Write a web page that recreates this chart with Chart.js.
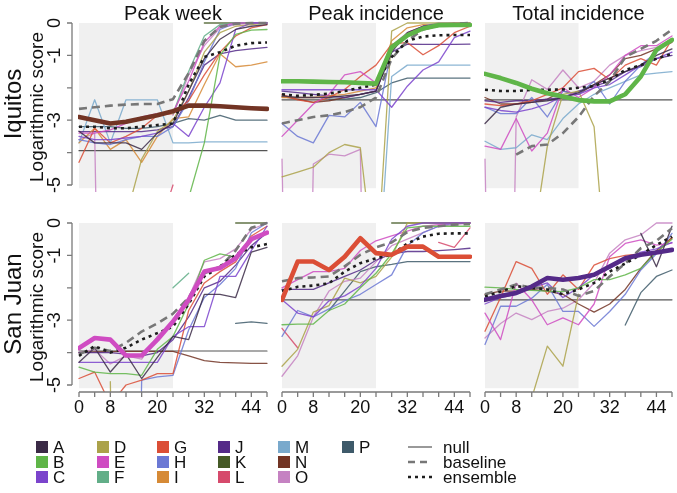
<!DOCTYPE html>
<html>
<head>
<meta charset="utf-8">
<script src="https://cdn.jsdelivr.net/npm/chart.js@4.4.1/dist/chart.umd.min.js"></script>
<style>
  body { margin: 0; background: #fff; }
  #page { position: relative; width: 677px; height: 493px; overflow: hidden; font-family: "Liberation Sans", Arial, sans-serif; color: #111; }
  #page canvas { position: absolute; left: 0; top: 0; }
  .lbl { position: absolute; white-space: nowrap; transform: translate(-50%, -50%); line-height: 1; }
  .rot { transform: translate(-50%, -50%) rotate(-90deg); }
  .leg { position: absolute; font-size: 17px; line-height: 1; white-space: nowrap; }
  .sw { position: absolute; width: 12px; height: 12px; }
</style>
</head>
<body>
<div id="page"></div>
<script>
const weeks = [0, 4, 8, 12, 16, 20, 24, 28, 32, 36, 40, 44, 48];
const xTickLabels = [0, 8, 20, 32, 44];
const yTickLabels = [0, -1, -3, -5];
const panelTitles = ["Peak week", "Peak incidence", "Total incidence"];
const cities = ["Iquitos", "San Juan"];
const models = ["A", "B", "C", "D", "E", "F", "G", "H", "I", "J", "K", "L", "M", "N", "O", "P"];
const modelColors = ["#3b2a46", "#5fb548", "#7b44cc", "#aba24a", "#cf4cc2", "#62ae88", "#db4e36", "#6b78d4",
  "#d68a36", "#542a88", "#455a26", "#d64a6c", "#79a9cc", "#723424", "#c582c2", "#3e5a6a"];
const highlighted = ["N", "B", "B", "E", "G", "J"];
const nullScores = [-3.94, -2.37, -2.37, -3.95, -2.37, -2.37];

// Iquitos, peak week
const iqWeekBaseline = [-2.65, -2.6, -2.55, -2.52, -2.5, -2.5, -2.35, -1.55, -0.55, -0.12, -0.02, 0, 0];
const iqWeekEnsemble = [-3.2, -3.2, -3.25, -3.25, -3.2, -3.15, -3.1, -1.9, -1.05, -0.9, -0.7, -0.62, -0.6];
const iqWeekModels = {
  A: [-3.34, -3.7, -3.7, -3.7, -3.9, -3.4, -3.1, -2.1, -1.1, -0.5, -0.2, -0.1, -0.05],
  B: [-9, -9, -9, -9, -9, -9, -9, -5.4, -3.7, -1.0, -0.35, -0.22, -0.2],
  C: [-3.5, -3.6, -3.6, -3.55, -3.5, -3.4, -3.1, -3.5, -2.6, -1.85, -0.2, 0, 0],
  D: [-9, -9, -9, -6, -4.2, -3.35, -3.0, -2.1, -0.9, -0.3, -0.1, -0.05, 0],
  E: [-3.4, -3.4, -3.3, -3.1, -2.9, -2.8, -2.75, -1.8, -0.6, -0.1, 0, 0, 0],
  F: [null, null, null, null, null, null, -2.8, -1.5, -0.4, -0.05, 0, 0, 0],
  G: [-4.3, -3.25, -3.7, -3.5, -3.25, -2.85, -2.8, -2.4, -1.6, -0.9, -0.4, -0.15, -0.05],
  H: [-3.6, -3.7, -3.75, -3.6, -3.5, -3.5, -3.2, -2.4, -1.2, -0.2, 0, 0, 0],
  I: [-3.7, -3.25, -3.9, -3.6, -4.3, -3.5, -2.95, -2.9, -1.9, -0.95, -1.35, -1.3, -1.2],
  J: [-3.35, -3.35, -3.35, -3.35, -3.35, -3.3, -3.2, -2.3, -1.3, -0.95, -0.85, -0.8, -0.75],
  K: [null, null, null, null, null, null, null, null, 0, 0, 0, 0, 0],
  L: [null, null, null, null, null, -6.5, -5.0, null, null, null, null, null, null],
  M: [-3.7, -2.37, -3.7, -2.37, -2.37, -2.37, -3.7, -3.7, -3.67, -3.67, -3.67, -3.67, -3.67],
  N: [-2.9, -3.0, -3.1, -3.05, -2.95, -2.85, -2.72, -2.55, -2.55, -2.57, -2.6, -2.63, -2.65],
  O: [-3.6, -3.4, -30, null, null, null, -2.85, -1.6, -0.7, -0.15, -0.05, 0, 0],
  P: [-3.2, -3.2, -3.2, -3.25, -3.25, -3.2, -3.1, -2.95, -3.0, -2.85, -3.0, -3.0, -3.0],
};

// Iquitos, peak incidence
const iqPeakBaseline = [-3.1, -3.0, -2.9, -2.85, -2.75, -2.6, -2.3, -1.1, -0.55, -0.2, -0.08, -0.03, 0];
const iqPeakEnsemble = [-2.2, -2.25, -2.22, -2.18, -2.1, -2.0, -1.9, -1.05, -0.55, -0.42, -0.38, -0.37, -0.37];
const iqPeakModels = {
  A: [-2.25, -2.3, -2.3, -2.3, -2.25, -2.2, -2.1, -0.9, -0.3, -0.1, -0.05, -0.05, -0.05],
  B: [-1.8, -1.8, -1.81, -1.82, -1.83, -1.85, -1.87, -0.75, -0.38, -0.17, -0.07, -0.06, -0.06],
  C: [-2.06, -2.06, -2.06, -2.06, -2.06, -2.06, -2.06, -2.6, -1.95, -1.45, -1.2, -0.45, -0.25],
  D: [-4.75, -4.6, -4.45, -4.0, -3.75, -3.85, -8, -0.25, 0, 0, 0, 0, 0],
  E: [-3.5, -3.0, -2.5, -2.2, -1.6, -1.5, -1.85, -0.7, -0.3, -0.1, -0.05, 0, 0],
  G: [-2.2, -2.37, -2.45, -2.3, -2.05, -1.65, -1.3, -0.65, -0.6, -0.98, -0.7, -0.3, -0.1],
  H: [-3.1, -3.5, -3.7, -2.85, -2.9, -2.45, -3.2, -0.8, -0.35, -0.1, 0, 0, 0],
  I: [-2.3, -2.3, -2.3, -2.25, -2.2, -2.1, -2.0, -0.55, -0.15, -0.05, -0.05, -0.05, -0.05],
  J: [-2.1, -2.15, -2.2, -2.25, -2.3, -2.2, -2.1, -0.9, -0.65, -0.66, -0.66, -0.66, -0.65],
  M: [null, null, null, null, null, null, -9, -1.65, -1.3, -1.3, -1.3, -1.3, -1.3],
  N: [-2.27, -2.35, -2.45, -2.4, -2.3, -2.2, -2.1, -0.8, -0.4, -0.2, -0.1, -0.05, -0.05],
  O: [-4.2, -30, -4.35, -4.05, -4.1, -3.9, -30, null, null, null, null, null, null],
  P: [null, null, null, -2.35, -2.35, -2.3, -2.15, -1.85, -1.7, -1.7, -1.7, -1.7, -1.7],
};

// Iquitos, total incidence
const iqTotalBaseline = [null, null, -4.06, -3.8, -3.75, -3.4, -2.9, -2.25, -1.8, -1.05, -0.8, -0.55, -0.2];
const iqTotalEnsemble = [-2.06, -2.1, -2.1, -2.06, -2.06, -2.05, -2.0, -1.95, -1.75, -1.45, -1.3, -1.1, -0.95];
const iqTotalModels = {
  A: [-3.1, -2.6, -2.5, -2.45, -2.4, -2.3, -2.15, -1.9, -1.7, -1.5, -1.3, -1.0, -0.8],
  B: [-1.57, -1.7, -1.85, -2.03, -2.17, -2.27, -2.38, -2.42, -2.42, -2.2, -1.65, -0.83, -0.52],
  C: [-2.6, -2.7, -2.75, -2.65, -2.5, -2.25, -2.2, -2.0, -1.9, -1.6, -1.3, -1.1, -0.9],
  D: [null, null, null, -7, -3.8, -2.2, -2.1, -3.2, -9, null, null, null, null],
  E: [-3.8, -3.9, -2.95, -3.95, -3.4, -2.0, -2.3, -2.0, -1.6, -1.0, -0.7, -0.7, -0.4],
  G: [-2.5, -2.55, -2.5, -2.4, -2.2, -2.0, -1.5, -1.4, -1.75, -1.3, -1.1, -1.3, -0.5],
  H: [-2.6, -2.8, -2.8, -2.3, -2.9, -2.1, -2.2, -1.8, -2.5, -1.8, -1.3, -0.9, -0.5],
  J: [-2.4, -2.45, -2.4, -2.4, -2.35, -2.3, -2.1, -1.95, -1.8, -1.5, -1.35, -1.1, -1.0],
  M: [-3.65, -3.9, -3.85, -3.45, -3.6, -2.95, -2.5, -2.2, -2.0, -1.8, -1.6, -1.55, -1.5],
  N: [-2.3, -2.5, -2.5, -2.45, -2.35, -2.1, -2.2, -1.9, -1.6, -1.1, -1.0, -0.8, -0.6],
  O: [-4.2, -30, -2.9, -1.75, -2.05, -1.45, -2.0, -1.8, -1.3, -1.0, -0.85, -0.75, -0.5],
};

// San Juan, peak week
const sjWeekBaseline = [-4.05, -3.85, -3.95, -3.7, -3.35, -3.1, -2.8, -2.3, -1.55, -1.35, -0.85, -0.15, 0];
const sjWeekEnsemble = [-4.1, -3.8, -4.0, -3.85, -3.6, -3.4, -3.2, -2.5, -1.65, -1.35, -0.98, -0.75, -0.65];
const sjWeekModels = {
  A: [-4.3, -3.85, -4.6, -4.05, -4.8, -4.15, -3.5, -3.6, -2.2, -2.2, -2.3, -0.9, -0.75],
  B: [-4.45, -4.6, -4.65, -4.65, -4.7, -3.9, -3.5, -2.5, -1.15, -0.95, -1.05, -0.5, -0.3],
  C: [-4.3, -4.3, -4.3, -4.3, -4.3, -4.3, -3.5, -3.2, -3.2, -1.65, -1.65, -0.85, -0.1],
  D: [null, null, -4.9, -30, null, null, null, null, null, null, null, null, null],
  E: [-3.86, -3.55, -3.6, -4.09, -4.09, -3.6, -3.04, -2.37, -1.5, -1.39, -1.09, -0.5, -0.3],
  F: [null, null, null, null, null, null, -2.0, -1.55, null, null, null, null, null],
  G: [-4.8, -4.6, -5.6, -5.0, -4.85, -4.65, -4.65, -2.7, -1.85, -1.5, -1.2, -0.4, -0.1],
  H: [null, null, null, -30, -4.85, -4.75, -4.7, -3.3, -2.3, -1.9, -1.4, -0.3, 0],
  J: [-4.0, -4.0, -4.0, -4.05, -4.1, -4.0, -3.6, -2.9, -2.0, -1.8, -1.3, -0.7, -0.3],
  K: [null, null, null, null, null, null, null, null, null, null, 0, 0, 0],
  N: [-4.0, -3.98, -3.97, -3.96, -3.96, -3.96, -3.96, -4.1, -4.25, -4.3, -4.32, -4.33, -4.33],
  O: [-4.0, -3.9, -4.35, -4.1, -4.2, -3.5, -3.0, -2.3, -1.2, -1.1, -0.8, -0.2, 0],
  P: [null, null, null, null, null, null, null, null, null, null, -3.1, -3.05, -3.1],
};

// San Juan, peak incidence
const sjPeakBaseline = [-1.8, -1.7, -1.68, -1.65, -1.34, -0.98, -0.75, -0.6, -0.28, -0.15, -0.1, -0.05, -0.03];
const sjPeakEnsemble = [-2.1, -1.97, -1.93, -1.86, -1.5, -1.24, -1.09, -0.98, -0.63, -0.42, -0.33, -0.32, -0.32];
const sjPeakModels = {
  B: [-3.14, -3.12, -3.12, -2.7, -2.5, -2.0, -1.55, -0.95, -0.15, -0.1, -0.1, -0.1, -0.1],
  C: [-2.37, -2.78, -2.9, -2.4, -2.25, -1.95, -1.4, -0.5, -0.1, 0, 0, 0, 0],
  D: [-4.42, -3.9, -2.75, -2.55, -1.7, -1.85, -1.65, -1.05, 0, 0, 0, 0, 0],
  E: [-2.0, -1.75, -1.5, -1.5, -1.4, -0.85, -0.55, -0.4, -0.25, -0.1, -0.05, 0, 0],
  G: [-2.37, -1.19, -1.19, -1.45, -1.04, -0.47, -0.93, -0.98, -0.73, -0.73, -1.04, -1.04, -1.04],
  H: [-3.5, -2.7, -2.9, -2.65, -2.4, -2.2, -1.9, -1.6, -0.7, -0.3, -0.1, 0, 0],
  J: [-2.05, -2.05, -2.05, -1.85, -1.65, -1.45, -1.15, -0.95, -0.88, -0.88, -0.85, -0.82, -0.78],
  K: [null, null, null, null, null, null, null, 0, 0, 0, 0, 0, 0],
  L: [-3.25, -3.85, null, null, null, null, null, null, null, null, -0.6, -0.75, -0.15],
  O: [-4.73, -4.1, -2.9, -2.1, -1.8, -1.7, -1.2, -0.7, -0.5, -0.3, -0.1, -0.05, 0],
  P: [null, null, null, -2.7, -2.1, -1.5, -1.35, -1.28, -1.19, -1.19, -1.19, -1.19, -1.19],
};

// San Juan, total incidence
const sjTotalBaseline = [-2.2, -2.05, -1.9, -2.0, -2.0, -2.05, -2.25, -2.1, -1.65, -1.25, -0.78, -0.55, -0.16];
const sjTotalEnsemble = [-2.27, -2.12, -1.95, -2.0, -2.05, -2.2, -2.05, -1.85, -1.5, -1.25, -0.98, -0.68, -0.42];
const sjTotalModels = {
  A: [null, null, null, null, null, null, null, null, null, null, -0.32, -1.35, -0.1],
  B: [-1.98, -2.0, -2.05, -2.08, -2.1, -2.12, -2.0, -1.75, -1.75, -1.6, -1.4, -0.9, -0.5],
  C: [-2.5, -2.3, -2.2, -2.0, -1.85, -2.3, -2.0, -1.6, -1.4, -1.15, -0.9, -0.8, -0.6],
  D: [null, null, null, -5.4, -3.8, -4.42, -2.2, null, null, null, null, null, null],
  E: [-2.78, -3.6, -1.86, -2.37, -3.14, -2.93, -3.14, -2.5, -1.04, -0.63, -0.52, -0.68, -0.62],
  G: [-3.34, -2.3, -1.19, -1.4, -2.2, -1.6, -2.05, -1.3, -1.1, -1.0, -0.95, -0.9, -0.47],
  H: [-3.75, -2.57, -2.57, -2.32, -1.9, -2.73, -2.73, -3.19, -2.73, -2.2, -1.45, -0.95, -0.32],
  J: [-2.37, -2.25, -2.16, -1.96, -1.7, -1.75, -1.7, -1.6, -1.34, -1.09, -0.98, -0.91, -0.83],
  N: [-2.2, -2.1, -2.1, -2.05, -2.1, -2.2, -2.5, -2.75, -2.5, -2.05, -1.4, -0.85, -0.45],
  O: [-3.55, -3.1, -2.78, -2.98, -2.73, -2.63, -2.37, -1.85, -0.93, -0.52, -0.37, 0, 0],
  P: [null, null, null, null, null, null, null, null, null, -3.15, -2.15, -1.65, -1.45],
};

const panelModels = [iqWeekModels, iqPeakModels, iqTotalModels, sjWeekModels, sjPeakModels, sjTotalModels];
const panelBaselines = [iqWeekBaseline, iqPeakBaseline, iqTotalBaseline, sjWeekBaseline, sjPeakBaseline, sjTotalBaseline];
const panelEnsembles = [iqWeekEnsemble, iqPeakEnsemble, iqTotalEnsemble, sjWeekEnsemble, sjPeakEnsemble, sjTotalEnsemble];

// layout (pixels)
const W = 677, H = 493;
const colLeft = [79, 282, 485];
const colRight = [267, 470, 672];
const rowTop = [23, 223];
const pxPerUnit = 32.4;
const yMin = -5.216;
const fontFamily = '"Liberation Sans", Arial, sans-serif';

function rgba(hex, a) {
  const n = parseInt(hex.slice(1), 16);
  return `rgba(${n >> 16}, ${(n >> 8) & 255}, ${n & 255}, ${a})`;
}

const framePlugin = {
  id: "frame",
  beforeDatasetsDraw(chart) {
    const { ctx } = chart;
    const x = chart.scales.x;
    const y = chart.scales.y;
    const l = x.getPixelForValue(0);
    const r = x.getPixelForValue(24);
    const t = y.getPixelForValue(0);
    const b = y.getPixelForValue(-5.1);
    ctx.save();
    ctx.fillStyle = "#f0f0f0";
    ctx.fillRect(l, t, r - l, b - t);
    ctx.restore();
  },
  afterDraw(chart, args, opts) {
    const { ctx, chartArea } = chart;
    const x = chart.scales.x;
    const y = chart.scales.y;
    ctx.save();
    ctx.strokeStyle = "#7a7a7a";
    ctx.lineWidth = 1.3;
    ctx.fillStyle = "#111";
    ctx.font = `18px ${fontFamily}`;
    if (opts.yAxis) {
      const ax = chartArea.left - 7;
      ctx.beginPath();
      ctx.moveTo(ax, y.getPixelForValue(0));
      ctx.lineTo(ax, y.getPixelForValue(-5));
      for (let v = 0; v >= -5; v--) {
        ctx.moveTo(ax, y.getPixelForValue(v));
        ctx.lineTo(ax - 5, y.getPixelForValue(v));
      }
      ctx.stroke();
      ctx.textAlign = "center";
      ctx.textBaseline = "middle";
      yTickLabels.forEach((v) => {
        ctx.save();
        ctx.translate(ax - 17, y.getPixelForValue(v));
        ctx.rotate(-Math.PI / 2);
        ctx.fillText(String(v), 0, 0);
        ctx.restore();
      });
    }
    if (opts.xAxis) {
      const ay = chartArea.bottom;
      ctx.beginPath();
      ctx.moveTo(x.getPixelForValue(0), ay);
      ctx.lineTo(x.getPixelForValue(48), ay);
      weeks.forEach((w) => {
        ctx.moveTo(x.getPixelForValue(w), ay);
        ctx.lineTo(x.getPixelForValue(w), ay + 5);
      });
      ctx.stroke();
      ctx.textAlign = "center";
      ctx.textBaseline = "middle";
      xTickLabels.forEach((w) => ctx.fillText(String(w), x.getPixelForValue(w), ay + 16));
    }
    ctx.restore();
  },
};

function series(values) {
  return weeks.map((w, i) => ({ x: w, y: values[i] }));
}

function makePanel(index) {
  const row = Math.floor(index / 3);
  const col = index % 3;
  const left = colLeft[col];
  const right = colRight[col];
  const top = rowTop[row];
  const bottom = top + Math.round(-yMin * pxPerUnit);
  const canvas = document.createElement("canvas");
  canvas.width = W;
  canvas.height = H;
  document.getElementById("page").appendChild(canvas);

  const clip = { left: 1, top: 3, right: 2, bottom: 0 };
  const datasets = [];
  const modelRows = panelModels[index];
  models.forEach((m, i) => {
    if (!modelRows[m]) return;
    const isHi = highlighted[index] === m;
    datasets.push({
      data: series(modelRows[m]),
      borderColor: isHi ? modelColors[i] : rgba(modelColors[i], 0.85),
      borderWidth: isHi ? 4.6 : 1.3,
      order: isHi ? 0 : 3,
      clip,
    });
  });
  datasets.push({
    data: series(panelEnsembles[index]),
    borderColor: "#1e1e1e",
    borderWidth: 2.6,
    borderDash: [3, 4],
    borderCapStyle: "butt",
    order: 1,
    clip,
  });
  datasets.push({
    data: series(panelBaselines[index]),
    borderColor: "#777777",
    borderWidth: 2.6,
    borderDash: [8, 5],
    borderCapStyle: "butt",
    order: 2,
    clip,
  });
  datasets.push({
    data: series(weeks.map(() => nullScores[index])),
    borderColor: "#555555",
    borderWidth: 1.2,
    order: 4,
    clip,
  });

  new Chart(canvas, {
    type: "line",
    data: { datasets },
    options: {
      responsive: false,
      devicePixelRatio: 1,
      animation: false,
      events: [],
      layout: { padding: { left, right: W - right, top, bottom: H - bottom } },
      elements: {
        line: { tension: 0, borderJoinStyle: "round", borderCapStyle: "round", fill: false },
        point: { radius: 0, hoverRadius: 0 },
      },
      plugins: {
        legend: { display: false },
        tooltip: { enabled: false },
        frame: { yAxis: col === 0, xAxis: row === 1 },
      },
      scales: {
        x: { type: "linear", min: 0, max: 48, display: false },
        y: { type: "linear", min: yMin, max: 0, display: false },
      },
    },
    plugins: [framePlugin],
  });
}

function addLabel(text, cx, cy, size, rotate) {
  const el = document.createElement("div");
  el.className = rotate ? "lbl rot" : "lbl";
  el.style.left = cx + "px";
  el.style.top = cy + "px";
  el.style.fontSize = size + "px";
  el.textContent = text;
  document.getElementById("page").appendChild(el);
}

function buildLegend() {
  const page = document.getElementById("page");
  const colX = [36, 97, 157, 218, 278, 342];
  const rowY = [447, 462, 477];
  models.forEach((m, i) => {
    const cx = colX[Math.floor(i / 3)];
    const cy = rowY[i % 3];
    const sw = document.createElement("div");
    sw.className = "sw";
    sw.style.left = cx + "px";
    sw.style.top = cy - 6 + "px";
    sw.style.background = modelColors[i];
    page.appendChild(sw);
    const t = document.createElement("div");
    t.className = "leg";
    t.style.left = cx + 17 + "px";
    t.style.top = cy - 8 + "px";
    t.textContent = m;
    page.appendChild(t);
  });
  const refNames = ["null", "baseline", "ensemble"];
  const refStyles = [
    { color: "#555", width: 1.2, dash: "" },
    { color: "#777", width: 2.4, dash: "7 5" },
    { color: "#1e1e1e", width: 2.4, dash: "3 4" },
  ];
  refNames.forEach((name, i) => {
    const y = rowY[i];
    const st = refStyles[i];
    const svg = document.createElementNS("http://www.w3.org/2000/svg", "svg");
    svg.setAttribute("width", "28");
    svg.setAttribute("height", "8");
    svg.style.position = "absolute";
    svg.style.left = "406px";
    svg.style.top = y - 4 + "px";
    const ln = document.createElementNS("http://www.w3.org/2000/svg", "line");
    ln.setAttribute("x1", "2");
    ln.setAttribute("x2", "26");
    ln.setAttribute("y1", "4");
    ln.setAttribute("y2", "4");
    ln.setAttribute("stroke", st.color);
    ln.setAttribute("stroke-width", st.width);
    if (st.dash) ln.setAttribute("stroke-dasharray", st.dash);
    svg.appendChild(ln);
    page.appendChild(svg);
    const t = document.createElement("div");
    t.className = "leg";
    t.style.left = "443px";
    t.style.top = y - 8 + "px";
    t.textContent = name;
    page.appendChild(t);
  });
}

for (let i = 0; i < 6; i++) makePanel(i);
panelTitles.forEach((t, c) => addLabel(t, (colLeft[c] + colRight[c]) / 2, 13, 20, false));
cities.forEach((c, r) => {
  const cy = rowTop[r] + 2.5 * pxPerUnit;
  addLabel(c, 13, cy, 24, true);
  addLabel("Logarithmic score", 36, cy + 3, 19, true);
});
buildLegend();
</script>
</body>
</html>
